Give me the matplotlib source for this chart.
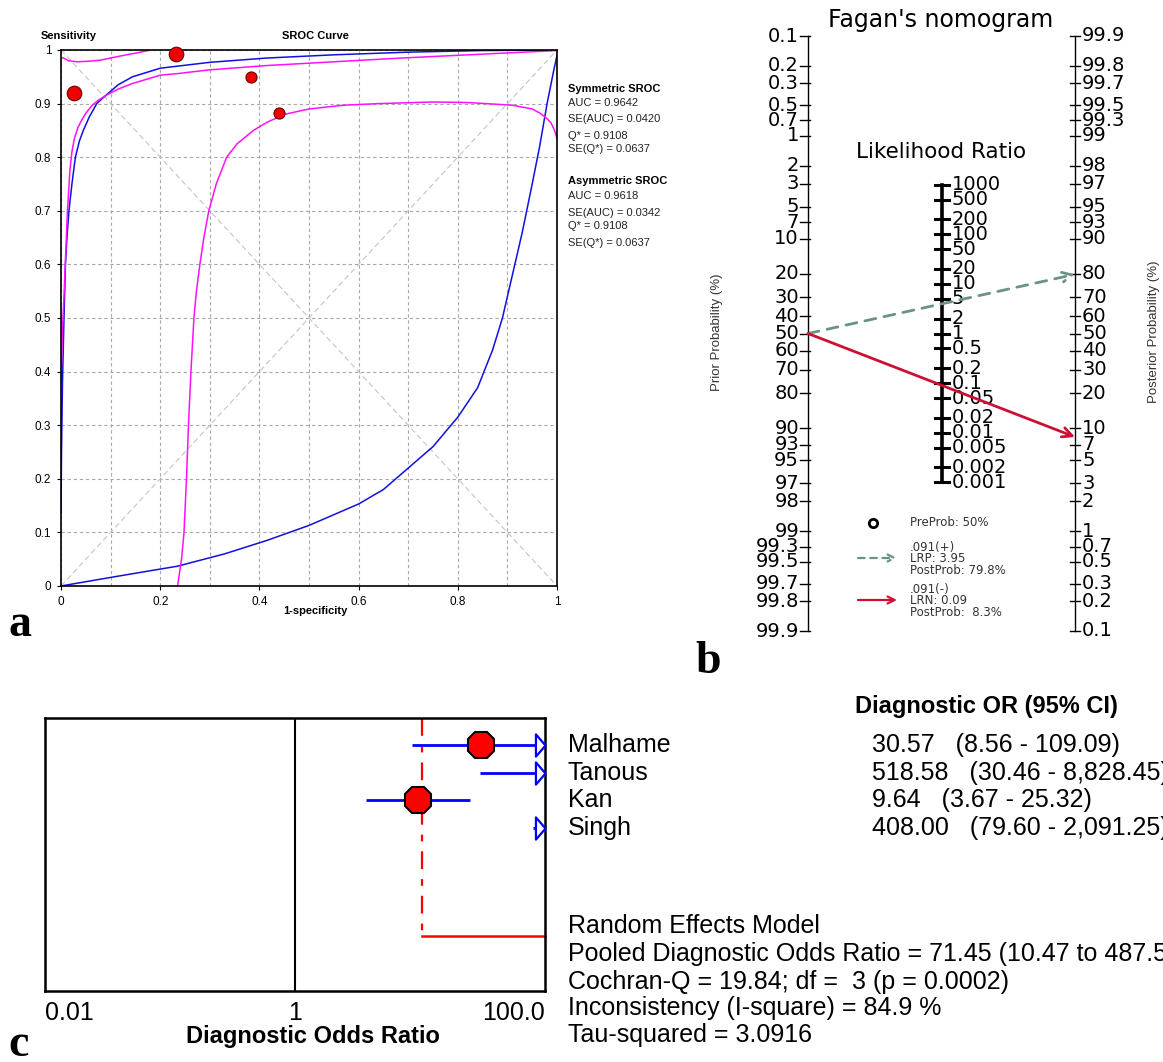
import numpy as np
import matplotlib
matplotlib.use("Agg")
import matplotlib.pyplot as plt
from matplotlib.path import Path
from matplotlib.ticker import NullLocator

W, H = 1163, 1062

# ---------------- Panel a : SROC data ----------------
sym_x = [0, 0.001, 0.003, 0.006, 0.009, 0.012, 0.016, 0.022, 0.029, 0.037, 0.045, 0.057, 0.072, 0.09,
         0.115, 0.144, 0.2, 0.3, 0.415, 0.55, 0.7, 0.85, 1.0]
sym_y = [0.136, 0.25, 0.38, 0.5, 0.6, 0.65, 0.7, 0.75, 0.8, 0.83, 0.85, 0.875, 0.9, 0.915,
         0.935, 0.95, 0.966, 0.977, 0.985, 0.991, 0.996, 0.999, 1.0]
sym_band_x = [0, 0.003, 0.006, 0.009, 0.013, 0.018, 0.022, 0.027, 0.034, 0.041, 0.05, 0.063, 0.075,
              0.09, 0.115, 0.144, 0.2, 0.235, 0.3, 0.415, 0.55, 0.686, 0.866, 1.0]
sym_band_y = [0.38, 0.48, 0.54, 0.61, 0.7, 0.776, 0.81, 0.835, 0.855, 0.868, 0.882, 0.897, 0.906,
              0.915, 0.927, 0.9375, 0.953, 0.956, 0.963, 0.971, 0.978, 0.985, 0.993, 0.999]
top_band_x = [0, 0.005, 0.015, 0.032, 0.055, 0.079, 0.105, 0.132, 0.155, 0.176]
top_band_y = [0.986, 0.985, 0.98, 0.978, 0.979, 0.981, 0.986, 0.991, 0.995, 0.999]
asym_x = [0, 0.1, 0.235, 0.33, 0.415, 0.5, 0.6, 0.65, 0.7, 0.75, 0.8, 0.84, 0.87, 0.89, 0.91, 0.93,
          0.95, 0.965, 0.98, 0.993, 1.0]
asym_y = [0, 0.016, 0.037, 0.06, 0.085, 0.113, 0.153, 0.18, 0.22, 0.26, 0.315, 0.37, 0.44, 0.5, 0.58,
          0.66, 0.75, 0.82, 0.9, 0.96, 0.99]
asym_band_x = [0.235, 0.243, 0.248, 0.253, 0.257, 0.262, 0.268, 0.273, 0.28, 0.288, 0.298, 0.313,
               0.334, 0.355, 0.388, 0.415, 0.451, 0.5, 0.57, 0.64, 0.75, 0.82, 0.91, 0.95, 0.966,
               0.98, 0.988, 0.995, 1.0]
asym_band_y = [0, 0.05, 0.1, 0.2, 0.3, 0.4, 0.5, 0.55, 0.6, 0.65, 0.7, 0.75, 0.8, 0.825, 0.85, 0.865,
               0.88, 0.89, 0.897, 0.9, 0.903, 0.902, 0.897, 0.89, 0.882, 0.872, 0.864, 0.85, 0.835]
study_fpr = [0.027, 0.232, 0.384, 0.44]
study_tpr = [0.919, 0.993, 0.95, 0.882]
a_xtick_labels = ["0", "0.2", "0.4", "0.6", "0.8", "1"]
a_ytick_labels = ["0", "0.1", "0.2", "0.3", "0.4", "0.5", "0.6", "0.7", "0.8", "0.9", "1"]
sym_stats = ["AUC = 0.9642", "SE(AUC) = 0.0420", "Q* = 0.9108", "SE(Q*) = 0.0637"]
asym_stats = ["AUC = 0.9618", "SE(AUC) = 0.0342", "Q* = 0.9108", "SE(Q*) = 0.0637"]

# ---------------- Panel b : Fagan nomogram ----------------
prior_ticks = [0.1, 0.2, 0.3, 0.5, 0.7, 1, 2, 3, 5, 7, 10, 20, 30, 40, 50, 60, 70, 80, 90, 93, 95, 97, 98, 99, 99.3, 99.5, 99.7, 99.8, 99.9]
post_ticks = [99.9, 99.8, 99.7, 99.5, 99.3, 99, 98, 97, 95, 93, 90, 80, 70, 60, 50, 40, 30, 20, 10, 7, 5, 3, 2, 1, 0.7, 0.5, 0.3, 0.2, 0.1]
lr_ticks = [1000, 500, 200, 100, 50, 20, 10, 5, 2, 1, 0.5, 0.2, 0.1, 0.05, 0.02, 0.01, 0.005, 0.002, 0.001]
prior_prob = 50.0
lr_pos, post_pos = 3.95, 79.8
lr_neg, post_neg = 0.09, 8.3

# ---------------- Panel c : forest plot ----------------
studies = ["Malhame", "Tanous", "Kan", "Singh"]
dor = [30.57, 518.58, 9.64, 408.00]
dor_lo = [8.56, 30.46, 3.67, 79.60]
dor_hi = [109.09, 8828.45, 25.32, 2091.25]
pooled_dor, pooled_lo, pooled_hi = 71.45, 10.47, 487.59
summary_lines = ["Random Effects Model",
                 "Pooled Diagnostic Odds Ratio = 71.45 (10.47 to 487.59)",
                 "Cochran-Q = 19.84; df =  3 (p = 0.0002)",
                 "Inconsistency (I-square) = 84.9 %",
                 "Tau-squared = 3.0916"]
c_tick_vals = [0.01, 1, 100]
c_tick_labels = ["0.01", "1", "100.0"]


def fx(px):
    return px / W


def fy(py):
    return 1 - py / H


fig = plt.figure(figsize=(W / 100, H / 100), dpi=100)
fig.patch.set_facecolor("white")
SANS = "Liberation Sans"
WIDE = "DejaVu Sans"

# =================== Panel a ===================
ax_a = fig.add_axes([fx(61), fy(586), (557 - 61) / W, (586 - 50) / H])
ax_a.set_xlim(0, 1)
ax_a.set_ylim(0, 1)
ax_a.set_xticks(np.linspace(0, 1, len(a_xtick_labels)))
ax_a.set_xticklabels(a_xtick_labels)
ax_a.set_xticks(np.arange(0.1, 1.0, 0.2), minor=True)
ax_a.set_yticks(np.linspace(0, 1, len(a_ytick_labels)))
ax_a.set_yticklabels(a_ytick_labels)
ax_a.grid(True, which="both", color="#a8a8a8", linestyle=(0, (3, 2.5)), linewidth=0.8)
ax_a.tick_params(which="major", length=3, width=0.8, labelsize=8.5, pad=4)
ax_a.tick_params(which="minor", length=0)
for lab in ax_a.get_xticklabels() + ax_a.get_yticklabels():
    lab.set_family(SANS)
for s in ax_a.spines.values():
    s.set_linewidth(1.2)
ax_a.plot([0, 1], [0, 1], color="#c4c4c4", linestyle=(0, (5, 3)), lw=0.8)
ax_a.plot([0, 1], [1, 0], color="#c4c4c4", linestyle=(0, (5, 3)), lw=0.8)
ax_a.plot(sym_x, sym_y, color="#1010e0", lw=1.1)
ax_a.plot(asym_x, asym_y, color="#1010e0", lw=1.1)
ax_a.plot(sym_band_x, sym_band_y, color="#ff10ff", lw=1.1)
ax_a.plot(top_band_x, top_band_y, color="#ff10ff", lw=1.1)
ax_a.plot(asym_band_x, asym_band_y, color="#ff10ff", lw=1.1)
pt_sizes = [10.5, 10.5, 8, 8]
for xv, yv, ms in zip(study_fpr, study_tpr, pt_sizes):
    ax_a.plot(xv, yv, "o", ms=ms, color="#ee0000", mec="#700000", mew=0.8, clip_on=False, zorder=5)

# =================== Panel b ===================
L = np.log(999.0)  # logit(0.999)
ax_b = fig.add_axes([fx(808), fy(631), 267 / W, 595 / H])
ax_b.set_xlim(0, 1)
ax_b.set_ylim(-L, L)
ax_b.axis("off")
pxu = 1.0 / 267


def logit(p):
    return np.log(p / (1 - p))


ax_b.plot([0, 0], [-L, L], color="black", lw=1.0, clip_on=False)
ax_b.plot([1, 1], [-L, L], color="black", lw=1.0, clip_on=False)
for p in prior_ticks:
    y = -logit(p / 100)
    ax_b.plot([-8 * pxu, 2 * pxu], [y, y], color="black", lw=1.0, clip_on=False)
    ax_b.text(-9 * pxu, y, f"{p:g}", ha="right", va="center", fontsize=14, family=WIDE, color="black")
for p in post_ticks:
    y = logit(p / 100)
    ax_b.plot([1 - 5 * pxu, 1 + 5 * pxu], [y, y], color="black", lw=1.0, clip_on=False)
    ax_b.text(1 + 7 * pxu, y, f"{p:g}", ha="left", va="center", fontsize=14, family=WIDE, color="black")
lr_y = [np.log(v) / 2 for v in lr_ticks]
ax_b.plot([0.5, 0.5], [min(lr_y), max(lr_y)], color="black", lw=2.6, clip_on=False)
for v, y in zip(lr_ticks, lr_y):
    ax_b.plot([0.5 - 7 * pxu, 0.5 + 7 * pxu], [y, y], color="black", lw=2.2, clip_on=False)
    ax_b.text(0.5 + 10 * pxu, y, f"{v:g}", ha="left", va="center", fontsize=14, family=WIDE, color="black")

green = "#6b9384"
red = "#cc1035"
ax_b.annotate("", xy=(1, logit(post_pos / 100)), xytext=(0, -logit(prior_prob / 100)),
              arrowprops=dict(arrowstyle="->,head_length=0.7,head_width=0.35", color=green, lw=2,
                              linestyle=(0, (4, 3)), shrinkA=0, shrinkB=0), annotation_clip=False)
ax_b.annotate("", xy=(1, logit(post_neg / 100)), xytext=(0, -logit(prior_prob / 100)),
              arrowprops=dict(arrowstyle="->,head_length=0.7,head_width=0.35", color=red, lw=2,
                              shrinkA=0, shrinkB=0), annotation_clip=False)

# =================== Panel c ===================
xmin, xmax = c_tick_vals[0], c_tick_vals[-1]
row_px = 27.7
ax_c = fig.add_axes([fx(45), fy(991), (545 - 45) / W, (991 - 718) / H])
ax_c.set_xscale("log")
ax_c.set_xlim(xmin, xmax)
top_row = -(745 - 718) / row_px
bot_row = (991 - 745) / row_px
ax_c.set_ylim(bot_row, top_row)
ax_c.set_yticks([])
ax_c.set_xticks(c_tick_vals)
ax_c.set_xticklabels(c_tick_labels)
ax_c.xaxis.set_minor_locator(NullLocator())
ax_c.tick_params(axis="x", length=0, pad=7, labelsize=18)
xl = ax_c.get_xticklabels()
for lab in xl:
    lab.set_family(SANS)
xl[0].set_ha("left")
xl[-1].set_ha("right")
for s in ax_c.spines.values():
    s.set_linewidth(1.8)
ax_c.axvline(1, color="black", lw=1.5)

pooled_row = (936 - 745) / row_px
ax_c.plot([pooled_lo, pooled_lo], [top_row, pooled_row], color="#ff0000", lw=1.6,
          linestyle=(0, (8, 4.5, 3, 4.5)))
ax_c.plot([pooled_lo, xmax], [pooled_row, pooled_row], color="#ff0000", lw=1.8, clip_on=False)

tri = Path([(-0.86, -1), (0, 0), (-0.86, 1), (-0.86, -1)],
           [Path.MOVETO, Path.LINETO, Path.LINETO, Path.CLOSEPOLY])
for i, (d, lo, hi) in enumerate(zip(dor, dor_lo, dor_hi)):
    ax_c.plot([max(lo, xmin), min(hi, xmax)], [i, i], color="#0000ff", lw=2, solid_capstyle="butt")
    if xmin <= d <= xmax:
        ax_c.plot(d, i, marker="8", ms=21, color="#ff0000", mec="black", mew=1.5, zorder=5)
    if hi > xmax:
        ax_c.plot(xmax, i, marker=tri, ms=16, mfc="white", mec="#0000ff", mew=1.6, clip_on=False, zorder=6)

# =================== Overlay (text in pixel coords) ===================
ov = fig.add_axes([0, 0, 1, 1])
ov.set_xlim(0, W)
ov.set_ylim(H, 0)
ov.axis("off")

# panel a texts
ov.text(41, 36, "Sensitivity", fontsize=8, fontweight="bold", family=SANS, va="center", ha="left")
ov.text(315, 36, "SROC Curve", fontsize=8, fontweight="bold", family=SANS, va="center", ha="center")
ov.text(315, 611, "1-specificity", fontsize=8, fontweight="bold", family=SANS, va="center", ha="center")
ov.text(568, 89, "Symmetric SROC", fontsize=8, fontweight="bold", family=SANS, va="center", ha="left")
for yy, t in zip([103, 119, 136, 149], sym_stats):
    ov.text(568, yy, t, fontsize=8, family=SANS, va="center", ha="left", color="#222222")
ov.text(568, 181, "Asymmetric SROC", fontsize=8, fontweight="bold", family=SANS, va="center", ha="left")
for yy, t in zip([196, 213, 226, 243], asym_stats):
    ov.text(568, yy, t, fontsize=8, family=SANS, va="center", ha="left", color="#222222")

# panel b texts
ov.text(941, 20, "Fagan's nomogram", fontsize=17, family=WIDE, ha="center", va="center")
ov.text(941, 152, "Likelihood Ratio", fontsize=15.5, family=WIDE, ha="center", va="center")
ov.text(717, 332, "Prior Probability (%)", fontsize=9.5, family=SANS, rotation=90,
        ha="center", va="center", color="#333333")
ov.text(1154, 332, "Posterior Probability (%)", fontsize=9.5, family=SANS, rotation=90,
        ha="center", va="center", color="#333333")
ov.plot(873, 523, "o", ms=6, mfc="white", mec="black", mew=2)
ov.text(910, 523, f"PreProb: {prior_prob:g}%", fontsize=8.5, family=WIDE, va="center", color="#333333")
ov.annotate("", xy=(897, 558), xytext=(858, 558),
            arrowprops=dict(arrowstyle="->,head_length=0.5,head_width=0.25", color=green, lw=1.6,
                            linestyle=(0, (3, 2.5)), shrinkA=0, shrinkB=0))
ov.text(910, 548, ".091(+)", fontsize=8.5, family=WIDE, va="center", color="#333333")
ov.text(910, 559, f"LRP: {lr_pos:g}", fontsize=8.5, family=WIDE, va="center", color="#333333")
ov.text(910, 570, f"PostProb: {post_pos:g}%", fontsize=8.5, family=WIDE, va="center", color="#333333")
ov.annotate("", xy=(897, 600), xytext=(858, 600),
            arrowprops=dict(arrowstyle="->,head_length=0.5,head_width=0.25", color=red, lw=1.6,
                            shrinkA=0, shrinkB=0))
ov.text(910, 590, ".091(-)", fontsize=8.5, family=WIDE, va="center", color="#333333")
ov.text(910, 601, f"LRN: {lr_neg:g}", fontsize=8.5, family=WIDE, va="center", color="#333333")
ov.text(910, 612, f"PostProb:  {post_neg:g}%", fontsize=8.5, family=WIDE, va="center", color="#333333")

# panel c texts
ov.text(986, 706, "Diagnostic OR (95% CI)", fontsize=17, fontweight="bold", family=SANS,
        ha="center", va="center")
for i, (nm, d, lo, hi) in enumerate(zip(studies, dor, dor_lo, dor_hi)):
    yy = 745 + i * row_px
    ov.text(568, yy, nm, fontsize=18, family=SANS, va="center", ha="left")
    ov.text(872, yy, f"{d:.2f}   ({lo:,.2f} - {hi:,.2f})", fontsize=18, family=SANS,
            va="center", ha="left")
for yy, t in zip([926, 954, 982, 1008, 1035], summary_lines):
    ov.text(568, yy, t, fontsize=18, family=SANS, va="center", ha="left")
ov.text(313, 1037, "Diagnostic Odds Ratio", fontsize=17, fontweight="bold", family=SANS,
        ha="center", va="center")

# panel letters
ov.text(8, 625, "a", fontsize=33, fontweight="bold", family="Liberation Serif", va="center", ha="left")
ov.text(695, 662, "b", fontsize=33, fontweight="bold", family="Liberation Serif", va="center", ha="left")
ov.text(8, 1045, "c", fontsize=33, fontweight="bold", family="Liberation Serif", va="center", ha="left")

fig.savefig("out.png", dpi=100)
